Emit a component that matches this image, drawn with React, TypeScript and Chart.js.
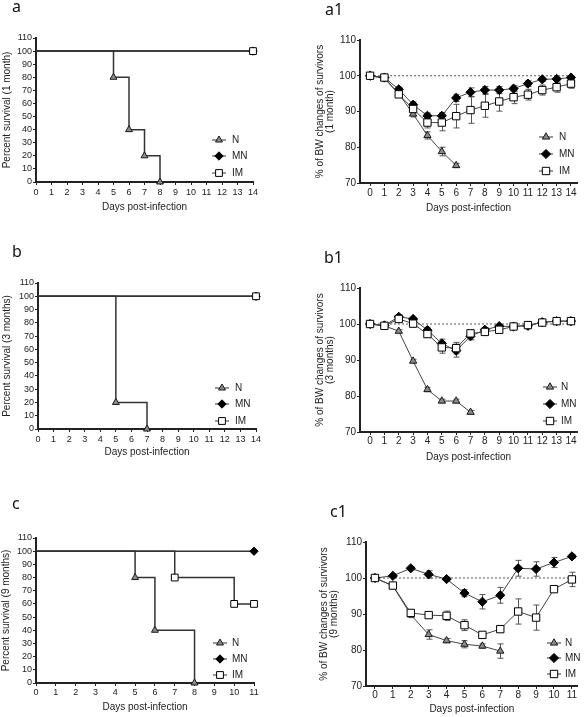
import React, { useEffect, useRef } from 'react';
import { Chart, registerables } from 'chart.js';
import { drawPoint } from 'chart.js/helpers';

Chart.register(...registerables);

// ---------- Survival data ----------
const survA_days_N = [0, 5, 6, 7, 8];
const survA_N = [100, 80, 40, 20, 0];
const survA_days_MN = [0, 14];
const survA_MN = [100, 100];
const survA_days_IM = [0, 14];
const survA_IM = [100, 100];

const survB_days_N = [0, 5, 7];
const survB_N = [100, 20, 0];
const survB_days_MN = [0, 14];
const survB_MN = [100, 100];
const survB_days_IM = [0, 14];
const survB_IM = [100, 100];

const survC_days_N = [0, 5, 6, 8];
const survC_N = [100, 80, 40, 0];
const survC_days_MN = [0, 11];
const survC_MN = [100, 100];
const survC_days_IM = [0, 7, 10, 11];
const survC_IM = [100, 80, 60, 60];

// ---------- Body weight data ----------
const days14 = [0, 1, 2, 3, 4, 5, 6, 7, 8, 9, 10, 11, 12, 13, 14];
const days11 = [0, 1, 2, 3, 4, 5, 6, 7, 8, 9, 10, 11];

const bwA1_days_N = [0, 1, 2, 3, 4, 5, 6];
const bwA1_N = [100, 99.2, 95.0, 89.3, 83.3, 78.8, 74.9];
const bwA1_N_err = [0, 0.5, 0.6, 0.8, 1.0, 1.2, 0.6];
const bwA1_MN = [100, 99.5, 96.2, 91.9, 88.8, 88.8, 93.8, 95.4, 96.0, 96.0, 96.4, 97.8, 99.0, 99.1, 99.5];
const bwA1_MN_err = [0.3, 0.4, 0.6, 0.8, 0.8, 0.9, 1.0, 1.2, 1.0, 1.0, 0.9, 0.8, 0.6, 0.5, 0.5];
const bwA1_IM = [100, 99.5, 94.8, 90.7, 86.9, 86.9, 88.7, 90.4, 91.6, 92.8, 94.0, 94.7, 96.0, 96.8, 97.8];
const bwA1_IM_err = [0.3, 0.5, 0.8, 1.0, 1.5, 2.3, 3.3, 3.7, 3.2, 2.7, 1.8, 1.5, 1.4, 1.4, 1.3];

const bwB1_days_N = [0, 1, 2, 3, 4, 5, 6, 7];
const bwB1_N = [100, 99.5, 98.0, 89.7, 81.8, 78.6, 78.6, 75.5];
const bwB1_N_err = [0, 0.3, 0.4, 0.5, 0.6, 0.5, 0.5, 0.5];
const bwB1_MN = [100, 99.6, 102.0, 101.4, 98.3, 94.6, 92.6, 96.6, 98.4, 99.4, 99.3, 99.5, 100.5, 100.8, 100.8];
const bwB1_MN_err = [0.3, 0.3, 0.5, 0.5, 0.8, 1.2, 1.8, 1.0, 0.6, 0.5, 0.5, 0.5, 0.4, 0.4, 0.4];
const bwB1_IM = [100, 99.5, 101.4, 100.1, 97.2, 93.5, 93.3, 97.4, 97.8, 98.4, 99.3, 99.7, 100.4, 100.8, 100.8];
const bwB1_IM_err = [0.3, 0.3, 0.6, 0.6, 0.8, 1.6, 1.6, 0.8, 0.6, 0.5, 0.5, 0.5, 0.4, 0.4, 0.4];

const bwC1_days_N = [0, 1, 2, 3, 4, 5, 6, 7];
const bwC1_N = [100, 97.8, 89.8, 84.3, 82.6, 81.6, 81.1, 79.7];
const bwC1_N_err = [0.3, 0.6, 0.8, 1.3, 0.6, 1.0, 0.6, 2.0];
const bwC1_MN = [100, 100.6, 102.7, 101.0, 99.7, 95.8, 93.4, 95.2, 102.7, 102.5, 104.3, 106.0];
const bwC1_MN_err = [0.4, 0.5, 0.5, 1.0, 0.5, 1.0, 2.0, 2.2, 2.2, 2.0, 1.4, 0.6];
const bwC1_IM = [100, 97.9, 90.3, 89.7, 89.5, 86.9, 84.2, 85.8, 90.7, 89.0, 96.9, 99.6];
const bwC1_IM_err = [0.5, 0.5, 0.8, 0.7, 1.3, 1.5, 0.6, 0.8, 3.5, 3.5, 0.6, 2.0];

// ---------- Ticks ----------
const survYTicks = [0, 10, 20, 30, 40, 50, 60, 70, 80, 90, 100, 110];
const bwYTicks = [70, 80, 90, 100, 110];
const xTicks14 = days14;
const xTicks11 = days11;

const groupNames = ['N', 'MN', 'IM'];
const xTitleText = 'Days post-infection';

const FONT = '"Liberation Sans", Arial, sans-serif';

type Style = 'N' | 'MN' | 'IM';
type Series = { name: Style; days: number[]; vals: number[]; errs?: number[] };
type Panel = {
  key: string;
  left: number; top: number; width: number; height: number;
  letter: string; letterX: number; letterY: number;
  kind: 'surv' | 'bw';
  series: Series[];
  xMin: number; xMax: number; xTicks: number[];
  yMin: number; yMax: number; yTicks: number[];
  yTitle: string | string[];
  yTitlePad: number; xTitlePad: number; xTickPad: number;
  pad: { left: number; top: number; right: number; bottom: number };
  yW: number; xH: number;
  legendX: number; legendTextX: number; legendYs: number[];
  tickFont: number;
  refMax?: number;
};

const STYLE: Record<Style, { pointStyle: any; fill: string; border: string }> = {
  N: { pointStyle: 'triangle', fill: '#8a8a8a', border: '#1a1a1a' },
  MN: { pointStyle: 'rectRot', fill: '#000000', border: '#000000' },
  IM: { pointStyle: 'rect', fill: '#ffffff', border: '#000000' },
};

function radiusFor(name: Style, kind: 'surv' | 'bw') {
  if (name === 'N') return kind === 'surv' ? 4 : 4.2;
  if (name === 'MN') return kind === 'surv' ? 4.2 : 4.6;
  return kind === 'surv' ? 4.8 : 5.2;
}

const PANELS: Panel[] = [
  {
    key: 'a', left: 0, top: 0, width: 292, height: 220,
    letter: 'a', letterX: 12, letterY: 12, kind: 'surv',
    series: [
      { name: 'N', days: survA_days_N, vals: survA_N },
      { name: 'MN', days: survA_days_MN, vals: survA_MN },
      { name: 'IM', days: survA_days_IM, vals: survA_IM },
    ],
    xMin: 0, xMax: 14, xTicks: xTicks14, yMin: 0, yMax: 110, yTicks: survYTicks,
    yTitle: 'Percent survival (1 month)', yTitlePad: 2, xTitlePad: 8, xTickPad: 2,
    pad: { left: 0, top: 38, right: 39, bottom: 0 }, yW: 36, xH: 38,
    legendX: 219, legendTextX: 232, legendYs: [140, 156, 173], tickFont: 9,
  },
  {
    key: 'a1', left: 292, top: 0, width: 292, height: 220,
    letter: 'a1', letterX: 33, letterY: 15, kind: 'bw',
    series: [
      { name: 'N', days: bwA1_days_N, vals: bwA1_N, errs: bwA1_N_err },
      { name: 'MN', days: days14, vals: bwA1_MN, errs: bwA1_MN_err },
      { name: 'IM', days: days14, vals: bwA1_IM, errs: bwA1_IM_err },
    ],
    xMin: -0.7, xMax: 14.42, xTicks: xTicks14, yMin: 70, yMax: 110, yTicks: bwYTicks,
    yTitle: ['% of BW changes of survivors', '(1 month)'], yTitlePad: 23, xTitlePad: 7, xTickPad: 1,
    pad: { left: 0, top: 40, right: 7, bottom: 0 }, yW: 68, xH: 37,
    legendX: 254, legendTextX: 267, legendYs: [137, 154, 171], tickFont: 10, refMax: 14,
  },
  {
    key: 'b', left: 0, top: 230, width: 292, height: 235,
    letter: 'b', letterX: 12, letterY: 27, kind: 'surv',
    series: [
      { name: 'N', days: survB_days_N, vals: survB_N },
      { name: 'MN', days: survB_days_MN, vals: survB_MN },
      { name: 'IM', days: survB_days_IM, vals: survB_IM },
    ],
    xMin: 0, xMax: 14, xTicks: xTicks14, yMin: 0, yMax: 110, yTicks: survYTicks,
    yTitle: 'Percent survival (3 months)', yTitlePad: 2, xTitlePad: 8, xTickPad: 2,
    pad: { left: 0, top: 53, right: 36, bottom: 0 }, yW: 38, xH: 36,
    legendX: 222, legendTextX: 235, legendYs: [158, 174, 191], tickFont: 9,
  },
  {
    key: 'b1', left: 292, top: 230, width: 292, height: 235,
    letter: 'b1', letterX: 32, letterY: 33, kind: 'bw',
    series: [
      { name: 'N', days: bwB1_days_N, vals: bwB1_N, errs: bwB1_N_err },
      { name: 'MN', days: days14, vals: bwB1_MN, errs: bwB1_MN_err },
      { name: 'IM', days: days14, vals: bwB1_IM, errs: bwB1_IM_err },
    ],
    xMin: -0.7, xMax: 14.42, xTicks: xTicks14, yMin: 70, yMax: 110, yTicks: bwYTicks,
    yTitle: ['% of BW changes of survivors', '(3 months)'], yTitlePad: 23, xTitlePad: 3, xTickPad: 0,
    pad: { left: 0, top: 58, right: 7, bottom: 0 }, yW: 68, xH: 33,
    legendX: 258, legendTextX: 269, legendYs: [157, 174, 191], tickFont: 10, refMax: 14,
  },
  {
    key: 'c', left: 0, top: 460, width: 292, height: 257,
    letter: 'c', letterX: 12, letterY: 49, kind: 'surv',
    series: [
      { name: 'N', days: survC_days_N, vals: survC_N },
      { name: 'MN', days: survC_days_MN, vals: survC_MN },
      { name: 'IM', days: survC_days_IM, vals: survC_IM },
    ],
    xMin: 0, xMax: 11, xTicks: xTicks11, yMin: 0, yMax: 110, yTicks: survYTicks,
    yTitle: 'Percent survival (9 months)', yTitlePad: 1, xTitlePad: 5, xTickPad: 1,
    pad: { left: 0, top: 78, right: 38, bottom: 0 }, yW: 36, xH: 34,
    legendX: 220, legendTextX: 232, legendYs: [183, 199, 215], tickFont: 9,
  },
  {
    key: 'c1', left: 292, top: 460, width: 292, height: 257,
    letter: 'c1', letterX: 38, letterY: 57, kind: 'bw',
    series: [
      { name: 'N', days: bwC1_days_N, vals: bwC1_N, errs: bwC1_N_err },
      { name: 'MN', days: days11, vals: bwC1_MN, errs: bwC1_MN_err },
      { name: 'IM', days: days11, vals: bwC1_IM, errs: bwC1_IM_err },
    ],
    xMin: -0.5, xMax: 11.33, xTicks: xTicks11, yMin: 70, yMax: 110, yTicks: bwYTicks,
    yTitle: ['% of BW changes of survivors', '(9 months)'], yTitlePad: 27, xTitlePad: 3, xTickPad: 0,
    pad: { left: 0, top: 82, right: 5, bottom: 0 }, yW: 74, xH: 31,
    legendX: 262, legendTextX: 273, legendYs: [183, 198, 214], tickFont: 10, refMax: 11,
  },
];

function PanelChart({ cfg }: { cfg: Panel }) {
  const ref = useRef<HTMLCanvasElement | null>(null);

  useEffect(() => {
    const canvas = ref.current;
    if (!canvas) return;
    const kind = cfg.kind;

    const datasets: any[] = [];
    // draw order: first dataset on top -> IM, MN, N, reference
    const ordered = ['IM', 'MN', 'N'].map((n) => cfg.series.find((s) => s.name === n)!) as Series[];
    ordered.forEach((s) => {
      const st = STYLE[s.name];
      const r = radiusFor(s.name, kind);
      datasets.push({
        label: s.name,
        data: s.days.map((d, i) => ({ x: d, y: s.vals[i] })),
        borderColor: kind === 'surv' ? '#333333' : '#444444',
        borderWidth: kind === 'surv' ? 1.5 : 1,
        stepped: kind === 'surv' ? 'before' : false,
        tension: 0,
        pointStyle: st.pointStyle,
        pointBackgroundColor: st.fill,
        pointBorderColor: st.border,
        pointBorderWidth: 1,
        pointRadius: s.days.map((_, i) => (kind === 'surv' && i === 0 ? 0 : r)),
        pointHoverRadius: s.days.map((_, i) => (kind === 'surv' && i === 0 ? 0 : r)),
        clip: false,
        fill: false,
      });
    });
    if (cfg.refMax !== undefined) {
      datasets.push({
        label: 'ref',
        data: [{ x: 0, y: 100 }, { x: cfg.refMax, y: 100 }],
        borderColor: '#555555',
        borderWidth: 1,
        borderDash: [2, 2],
        pointRadius: 0,
        clip: false,
        fill: false,
      });
    }

    const overlay = {
      id: 'overlay' + cfg.key,
      beforeDatasetsDraw(chart: any) {
        const ctx = chart.ctx;
        const xs = chart.scales.x;
        const ys = chart.scales.y;
        ctx.save();
        ctx.strokeStyle = '#555555';
        ctx.lineWidth = 1;
        cfg.series.forEach((s) => {
          if (!s.errs) return;
          s.days.forEach((d, i) => {
            const e = s.errs![i];
            if (!e) return;
            const px = Math.round(xs.getPixelForValue(d)) + 0.5;
            const y1 = ys.getPixelForValue(s.vals[i] + e);
            const y2 = ys.getPixelForValue(s.vals[i] - e);
            ctx.beginPath();
            ctx.moveTo(px, y1);
            ctx.lineTo(px, y2);
            ctx.moveTo(px - 3, y1);
            ctx.lineTo(px + 3, y1);
            ctx.moveTo(px - 3, y2);
            ctx.lineTo(px + 3, y2);
            ctx.stroke();
          });
        });
        ctx.restore();
      },
      afterDraw(chart: any) {
        const ctx = chart.ctx;
        ctx.save();
        // panel letter
        ctx.fillStyle = '#111111';
        ctx.font = '16px "Noto Sans", sans-serif';
        ctx.textAlign = 'left';
        ctx.textBaseline = 'alphabetic';
        ctx.fillText(cfg.letter, cfg.letterX, cfg.letterY);
        // legend
        groupNames.forEach((n, i) => {
          const st = STYLE[n as Style];
          const y = cfg.legendYs[i];
          const mx = cfg.legendX;
          ctx.strokeStyle = '#333333';
          ctx.lineWidth = 1;
          ctx.beginPath();
          ctx.moveTo(mx - 7, y);
          ctx.lineTo(mx + 7, y);
          ctx.stroke();
          ctx.fillStyle = st.fill;
          ctx.strokeStyle = st.border;
          ctx.lineWidth = 1;
          drawPoint(ctx, { pointStyle: st.pointStyle, radius: radiusFor(n as Style, kind), borderWidth: 1, rotation: 0 } as any, mx, y);
          ctx.fillStyle = '#222222';
          ctx.font = '10px ' + FONT;
          ctx.textBaseline = 'middle';
          ctx.textAlign = 'left';
          ctx.fillText(n, cfg.legendTextX, y);
        });
        ctx.restore();
      },
    };

    const chart = new Chart(canvas, {
      type: 'line',
      data: { datasets },
      options: {
        responsive: false,
        maintainAspectRatio: false,
        animation: false,
        events: [],
        layout: { padding: cfg.pad },
        plugins: { legend: { display: false }, tooltip: { enabled: false } },
        scales: {
          x: {
            type: 'linear',
            min: cfg.xMin,
            max: cfg.xMax,
            afterBuildTicks: (s: any) => {
              s.ticks = cfg.xTicks.map((v) => ({ value: v }));
            },
            afterFit: (s: any) => {
              s.height = cfg.xH;
            },
            ticks: {
              autoSkip: false,
              maxRotation: 0,
              minRotation: 0,
              padding: cfg.xTickPad,
              color: '#222222',
              font: { family: FONT, size: cfg.tickFont },
              callback: (v: any) => String(v),
            },
            grid: { display: true, drawOnChartArea: false, drawTicks: true, tickLength: 3, color: '#222222', lineWidth: 1 },
            border: { display: true, color: '#222222', width: 2 },
            title: {
              display: true,
              text: xTitleText,
              color: '#222222',
              font: { family: FONT, size: 10, lineHeight: 1 },
              padding: { top: 0, bottom: cfg.xTitlePad },
            },
          },
          y: {
            type: 'linear',
            min: cfg.yMin,
            max: cfg.yMax,
            afterBuildTicks: (s: any) => {
              s.ticks = cfg.yTicks.map((v) => ({ value: v }));
            },
            afterFit: (s: any) => {
              s.width = cfg.yW;
            },
            ticks: {
              autoSkip: false,
              padding: 1,
              color: '#222222',
              font: { family: FONT, size: cfg.tickFont },
              callback: (v: any) => String(v),
            },
            grid: { display: true, drawOnChartArea: false, drawTicks: true, tickLength: 3, color: '#222222', lineWidth: 1 },
            border: { display: true, color: '#222222', width: 2 },
            title: {
              display: true,
              text: cfg.yTitle as any,
              color: '#222222',
              font: { family: FONT, size: 10, lineHeight: 1 },
              padding: { top: cfg.yTitlePad, bottom: 0 },
            },
          },
        },
      } as any,
      plugins: [overlay],
    });

    return () => {
      chart.destroy();
    };
  }, [cfg]);

  return (
    <canvas
      ref={ref}
      width={cfg.width}
      height={cfg.height}
      style={{ position: 'absolute', left: cfg.left, top: cfg.top, width: cfg.width, height: cfg.height }}
    />
  );
}

export default function App() {
  return (
    <div style={{ position: 'absolute', left: 0, top: 0, width: 584, height: 717, background: '#ffffff', overflow: 'hidden' }}>
      {PANELS.map((p) => (
        <PanelChart key={p.key} cfg={p} />
      ))}
    </div>
  );
}
